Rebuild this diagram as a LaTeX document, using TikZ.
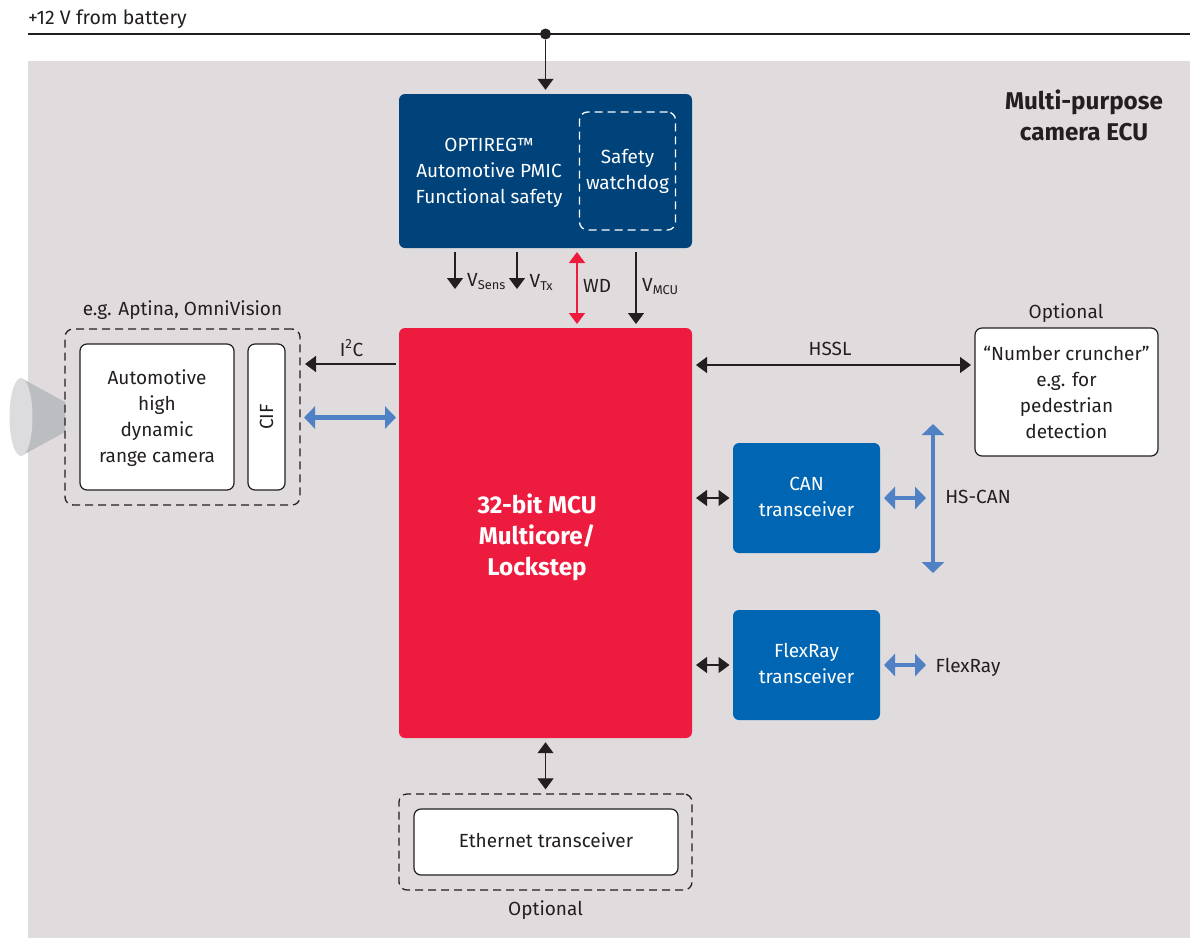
\documentclass[tikz,border=0pt]{standalone}
\usepackage{fontspec}
\setmainfont{Fira Sans}[Scale=0.95]
\usetikzlibrary{arrows.meta,calc,shapes.geometric}
\definecolor{bgc}{HTML}{E0DCDE}
\definecolor{navyc}{HTML}{00427A}
\definecolor{bluec}{HTML}{0066B3}
\definecolor{redc}{HTML}{ED1C3F}
\definecolor{linkc}{HTML}{4F81C4}
\definecolor{inkc}{HTML}{231F20}
\definecolor{conec}{HTML}{BBBDC0}
\definecolor{lensc}{HTML}{DCDCDE}
\newcommand{\sbs}[1]{\raisebox{-3pt}{\fontsize{13.5}{14}\selectfont #1}}
\tikzset{
  txt/.style={text=inkc,inner sep=0pt,align=center,font=\fontsize{20}{26}\selectfont},
  bold/.style={txt,font=\fontsize{25.5}{31}\selectfont\bfseries},
  box/.style={rounded corners=6pt,inner sep=0pt,txt},
  whitebox/.style={box,draw=inkc,line width=1.2pt,fill=white,rounded corners=7pt},
  dashbox/.style={draw=inkc,line width=1.3pt,dash pattern=on 8pt off 5pt,rounded corners=8pt},
  blk/.style={draw=inkc,line width=1.2pt,-{Triangle[width=16pt,length=11pt]}},
  blkd/.style={draw=inkc,line width=1.2pt,{Triangle[width=16pt,length=11pt]}-{Triangle[width=16pt,length=11pt]}},
  redd/.style={draw=redc,line width=1.6pt,{Triangle[width=16pt,length=11pt]}-{Triangle[width=16pt,length=11pt]}},
  blu/.style={draw=linkc,line width=4.5pt,{Triangle[width=22pt,length=11pt]}-{Triangle[width=22pt,length=11pt]}},
}
\begin{document}
\begin{tikzpicture}[x=1pt,y=-1pt]
\useasboundingbox (0,0) rectangle (1190,938);
\fill[bgc] (28,61) rectangle (1190,938);
% supply
\node[txt,anchor=west,font=\fontsize{20.6}{26}\selectfont] (batt) at (28,19.5) {+12 V from battery};
\coordinate (railL) at (28,34);
\coordinate (railR) at (1190,34);
\draw[inkc,line width=1.1pt] (railL) -- (railR);
\node[circle,fill=inkc,inner sep=0pt,minimum size=11pt] (dot) at (545.5,34) {};
% title
\node[bold] (title) at (1084,115) {Multi-purpose\\camera ECU};
% PMIC
\node[box,fill=navyc,minimum width=293pt,minimum height=154pt] (pmic) at (545.5,171) {};
\node[txt,text=white] (pmict) at (489,173) {OPTIREG™\\Automotive PMIC\\Functional safety};
\node[dashbox,draw=white,minimum width=96pt,minimum height=118pt,inner sep=0pt] (wdog) at (627.5,171) {};
\node[txt,text=white] (wdogt) at (627.5,171.5) {Safety\\watchdog};
% MCU
\node[box,fill=redc,minimum width=293pt,minimum height=410pt] (mcu) at (545.5,533) {};
\node[bold,text=white] (mcut) at (537,537) {32-bit MCU\\Multicore/\\Lockstep};
% camera
\fill[conec] (21,378) -- (65,402) -- (65,432) -- (21,456) -- cycle;
\node[ellipse,fill=lensc,minimum width=23pt,minimum height=78pt,inner sep=0pt] (lens) at (21,417) {};
\node[dashbox,minimum width=235pt,minimum height=176pt] (camd) at (182.5,417) {};
\node[txt] (camc) at (182.5,310.5) {e.g. Aptina, OmniVision};
\node[whitebox,minimum width=154pt,minimum height=146pt] (cam) at (157,417) {};
\node[txt] (camt) at (157,418) {Automotive\\high\\dynamic\\range camera};
\node[whitebox,minimum width=37pt,minimum height=146pt] (cif) at (266.5,417) {\rotatebox{90}{CIF}};
% cruncher
\node[txt] (optA) at (1066,313) {Optional};
\node[whitebox,minimum width=183pt,minimum height=128pt] (num) at (1066.5,392) {};
\node[txt] (numt) at (1066.5,392) {“Number cruncher”\\e.g. for\\pedestrian\\detection};
% transceivers
\node[box,fill=bluec,minimum width=147pt,minimum height=110pt] (can) at (806.5,498) {};
\node[txt,text=white] (cant) at (806.5,496.5) {CAN\\transceiver};
\node[box,fill=bluec,minimum width=147pt,minimum height=110pt] (flex) at (806.5,665) {};
\node[txt,text=white] (flext) at (806.5,663.5) {FlexRay\\transceiver};
% ethernet
\node[dashbox,minimum width=293pt,minimum height=96pt] (ethd) at (545.5,842) {};
\node[whitebox,minimum width=264pt,minimum height=66pt] (eth) at (546,842) {};
\node[txt] (etht) at (546,840) {Ethernet transceiver};
\node[txt] (optB) at (545.5,910) {Optional};
% connectors
\draw[blk] (dot) -- ($(pmic.north)+(0,-4)$);
\coordinate (sA) at (455,252); \coordinate (sB) at (455,289);
\coordinate (tA) at (517,252); \coordinate (tB) at (517,289);
\coordinate (wA) at (577,252); \coordinate (wB) at (577,324);
\coordinate (mA) at (636,252); \coordinate (mB) at (636,324);
\draw[blk] (sA) -- (sB);
\draw[blk] (tA) -- (tB);
\draw[redd] (wA) -- (wB);
\draw[blk] (mA) -- (mB);
\node[txt,anchor=west] (vsens) at (467,282) {V\sbs{Sens}};
\node[txt,anchor=west] (vtx) at (529.5,282) {V\sbs{Tx}};
\node[txt,anchor=west] (wd) at (583,286) {WD};
\node[txt,anchor=west] (vmcu) at (642,287) {V\sbs{MCU}};
% left
\coordinate (iA) at (396,364); \coordinate (iB) at (305,364);
\draw[blk] (iA) -- (iB);
\node[txt] (i2c) at (351.5,348) {I\textsuperscript{2}C};
\coordinate (bA) at (304,417.5); \coordinate (bB) at (396,417.5);
\draw[blu] (bA) -- (bB);
% right
\coordinate (hA) at (696,365); \coordinate (hB) at (971,365);
\draw[blkd] (hA) -- (hB);
\node[txt] (hssl) at (830,349) {HSSL};
\coordinate (cA) at (696,498); \coordinate (cB) at (729.5,498);
\draw[blkd] (cA) -- (cB);
\coordinate (fA) at (696,665); \coordinate (fB) at (729.5,665);
\draw[blkd] (fA) -- (fB);
\coordinate (cC) at (884,498); \coordinate (cD) at (926,498);
\draw[blu,line width=4pt] (cC) -- (cD);
\coordinate (fC) at (884,665); \coordinate (fD) at (926,665);
\draw[blu,line width=4pt] (fC) -- (fD);
\coordinate (busT) at (933,424); \coordinate (busB) at (933,573);
\draw[blu,line width=4pt] (busT) -- (busB);
\node[txt] (hscan) at (978,496.5) {HS-CAN};
\node[txt] (flexl) at (968,667) {FlexRay};
% bottom
\draw[blkd] ($(mcu.south)+(0,4)$) -- ($(ethd.north)+(0,-4)$);
\end{tikzpicture}
\end{document}
